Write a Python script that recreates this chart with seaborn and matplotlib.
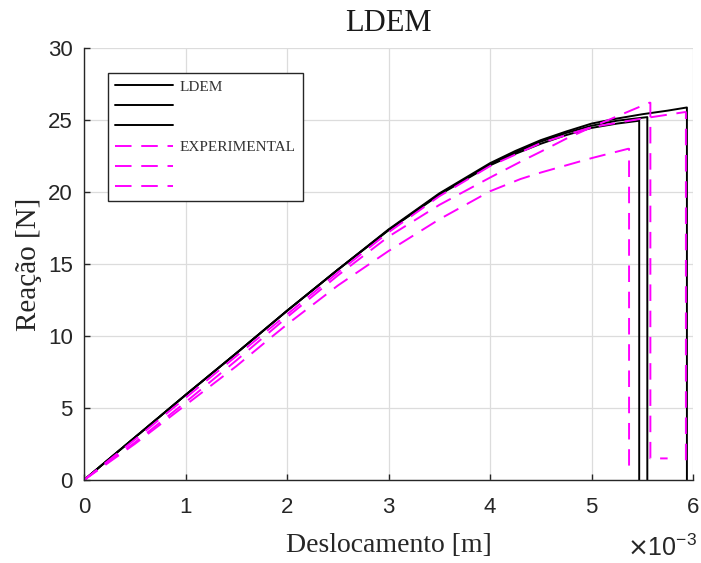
import numpy as np
import pandas as pd
import matplotlib
matplotlib.use("Agg")
import matplotlib.pyplot as plt
from matplotlib.lines import Line2D
import seaborn as sns

# ---- data (x in units of 1e-3 m, y in N) ----
ldem1_x = [0, 0.5, 1, 1.5, 2, 2.5, 3, 3.5, 4, 4.25, 4.5, 4.75, 5, 5.25, 5.47, 5.47]
ldem1_y = [0, 2.95, 5.9, 8.8, 11.75, 14.6, 17.35, 19.8, 21.85, 22.65, 23.35, 23.95, 24.45, 24.75, 24.95, 0]
ldem2_x = [0, 0.5, 1, 1.5, 2, 2.5, 3, 3.5, 4, 4.25, 4.5, 4.75, 5, 5.25, 5.55, 5.55]
ldem2_y = [0, 2.95, 5.9, 8.8, 11.75, 14.6, 17.35, 19.85, 21.9, 22.75, 23.5, 24.1, 24.6, 24.95, 25.2, 0]
ldem3_x = [0, 0.5, 1, 1.5, 2, 2.5, 3, 3.5, 4, 4.25, 4.5, 4.75, 5, 5.25, 5.5, 5.75, 5.94, 5.94]
ldem3_y = [0, 2.95, 5.9, 8.8, 11.75, 14.6, 17.4, 19.9, 22.0, 22.85, 23.6, 24.2, 24.75, 25.1, 25.4, 25.65, 25.87, 0]

exp1_x = [0, 0.5, 1, 1.5, 2, 2.5, 3, 3.5, 4, 4.3, 4.5, 4.75, 5, 5.25, 5.57, 5.58, 5.58, 5.75]
exp1_y = [0, 2.6, 5.4, 8.3, 11.3, 14.2, 16.9, 19.1, 21.0, 22.1, 22.8, 23.7, 24.5, 25.25, 26.2, 26.2, 1.5, 1.5]
exp2_x = [0, 0.5, 1, 1.5, 1.86, 2, 2.5, 3, 3.5, 4, 4.3, 4.5, 5, 5.36, 5.37, 5.37]
exp2_y = [0, 2.5, 5.2, 7.9, 10.0, 10.8, 13.5, 15.9, 18.1, 20.05, 20.9, 21.35, 22.35, 23.0, 23.0, 1.0]
exp3_x = [0, 0.5, 1, 1.5, 2, 2.5, 3, 3.5, 4, 4.5, 5, 5.5, 5.92, 5.93, 5.93]
exp3_y = [0, 2.8, 5.7, 8.6, 11.5, 14.4, 17.2, 19.7, 21.8, 23.4, 24.5, 25.1, 25.55, 25.55, 1.0]

legend_labels = ["LDEM", "", "", "EXPERIMENTAL", "", ""]
x_ticks = [0, 1, 2, 3, 4, 5, 6]
y_ticks = [0, 5, 10, 15, 20, 25, 30]

sns.set_theme(style="whitegrid")
plt.rcParams['font.family'] = ['Liberation Sans', 'DejaVu Sans']

fig = plt.figure(figsize=(7.01, 5.63), dpi=100)
ax = fig.add_axes([84/701, 1-480/563, (693-84)/701, (480-48)/563])

black_series = [(ldem1_x, ldem1_y), (ldem2_x, ldem2_y), (ldem3_x, ldem3_y)]
mag_series = [(exp1_x, exp1_y), (exp2_x, exp2_y), (exp3_x, exp3_y)]
dash = (8.5, 5.0)

for xs, ys in black_series:
    df = pd.DataFrame({"x": xs, "y": ys})
    sns.lineplot(data=df, x="x", y="y", sort=False, estimator=None,
                 color="black", linewidth=1.4, ax=ax)
for xs, ys in mag_series:
    df = pd.DataFrame({"x": xs, "y": ys})
    sns.lineplot(data=df, x="x", y="y", sort=False, estimator=None,
                 color="#ff00ff", linewidth=1.4, ax=ax)
    ax.lines[-1].set_dashes(dash)

ax.set_xlim(0, 6)
ax.set_ylim(0, 30)
ax.set_xticks(x_ticks)
ax.set_yticks(y_ticks)
ax.grid(True, color="#dcdcdc", linewidth=0.9)
ax.set_facecolor("white")
for s in ["top", "right"]:
    ax.spines[s].set_visible(False)
for s in ["left", "bottom"]:
    ax.spines[s].set_visible(True)
    ax.spines[s].set_color("#262626")
    ax.spines[s].set_linewidth(1.0)
ax.tick_params(direction="in", length=4, width=1, colors="#262626",
               labelsize=16, left=True, bottom=True)
ax.tick_params(axis="x", pad=12)
ax.tick_params(axis="y", pad=8)

serif = ['Liberation Serif', 'DejaVu Serif']
ax.set_title("LDEM", family=serif, fontsize=22, color="#1a1a1a", pad=12)
ax.set_xlabel("Deslocamento [m]", family=serif, fontsize=20, color="#262626", labelpad=11)
ax.set_ylabel("Reação [N]", family=serif, fontsize=21, color="#262626", labelpad=4)

fig.text(627/701, 1-548/563, r"$\times\mathregular{10^{-3}}$", fontsize=18, color="#262626",
         family=['Liberation Sans', 'DejaVu Sans'], va="center", ha="left")

handles = [Line2D([], [], color="black", lw=1.4) for _ in range(3)] + \
          [Line2D([], [], color="#ff00ff", lw=1.4, dashes=dash) for _ in range(3)]
leg = ax.legend(handles, legend_labels, loc="upper left",
                bbox_to_anchor=((108-84)/609, 1-(73-48)/432),
                prop={'family': serif, 'size': 11}, frameon=True, fancybox=False,
                framealpha=1, edgecolor="#262626", handlelength=3.8,
                handletextpad=0.45, labelspacing=0.42, borderpad=0.45,
                borderaxespad=0)
leg.get_frame().set_linewidth(1.0)
for t in leg.get_texts():
    t.set_color("#333333")
fig.savefig("out.png", dpi=100)
